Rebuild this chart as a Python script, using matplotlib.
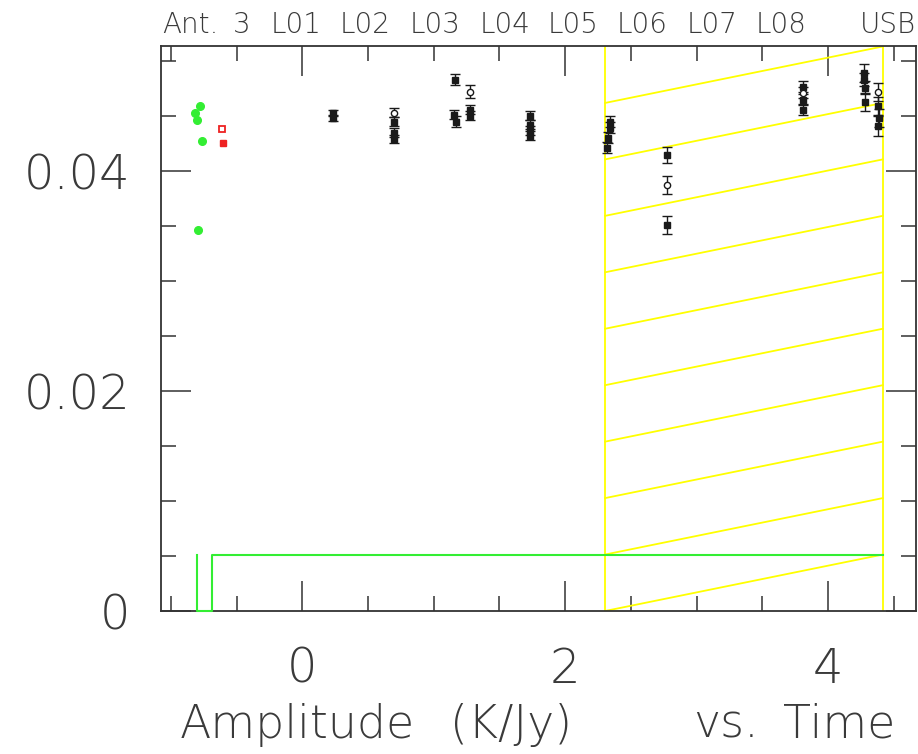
import matplotlib
matplotlib.use("Agg")
import matplotlib.pyplot as plt
from matplotlib.ticker import MultipleLocator, FixedFormatter, FixedLocator

# ---- data -------------------------------------------------------------
# calibrated amplitudes per scan (black: source scans)
time_filled = [0.236, 0.236, 0.70, 0.70, 0.70, 1.163, 1.155, 1.170, 1.276, 1.276,
               1.733, 1.733, 1.733, 1.733, 2.320, 2.330, 2.340, 2.340,
               2.773, 2.773, 3.813, 3.813, 3.813,
               4.277, 4.277, 4.285, 4.285, 4.384, 4.390, 4.384]
amp_filled = [0.04527, 0.04482, 0.04445, 0.04345, 0.04290, 0.04827, 0.04509, 0.04445,
              0.04555, 0.04500,
              0.04500, 0.04418, 0.04364, 0.04318, 0.04209, 0.04300, 0.04390, 0.04445,
              0.04145, 0.03509, 0.04764, 0.04645, 0.04555,
              0.04891, 0.04827, 0.04755, 0.04627, 0.04590, 0.04482, 0.04409]
err_filled = [0.0003, 0.0003, 0.0004, 0.0004, 0.0004, 0.0005, 0.0004, 0.0005,
              0.0004, 0.0004,
              0.0004, 0.0004, 0.0004, 0.0004, 0.0005, 0.0005, 0.0005, 0.0005,
              0.0007, 0.0008, 0.0005, 0.0005, 0.0005,
              0.0008, 0.0006, 0.0006, 0.0008, 0.0008, 0.0008, 0.0009]

time_open = [0.70, 1.276, 2.773, 3.813, 4.384]
amp_open = [0.04527, 0.04718, 0.03873, 0.04709, 0.04718]
err_open = [0.0004, 0.0006, 0.0008, 0.0005, 0.0008]

# bandpass / reference scans
time_green = [-0.779, -0.817, -0.804, -0.766, -0.791]
amp_green = [0.04591, 0.04524, 0.04464, 0.04273, 0.03464]

time_red = [-0.613, -0.601]
amp_red = [0.04382, 0.04252]

# flagged time range and scan window
flag_range = [2.304, 4.417]
window_x = [-0.802, -0.802, -0.684, -0.684, 4.417]
window_y = [0.0051, 0.0, 0.0, 0.0051, 0.0051]

x_limits = (-1.075, 4.670)
y_limits = (0.0, 0.0513)

top_labels = ["Ant.", "3", "L01", "L02", "L03", "L04", "L05", "L06", "L07", "L08", "USB"]
top_label_px = [162, 233, 271, 340, 410, 480, 548, 617, 687, 756, 860]

caption_words = ["Amplitude", "(K/Jy)", "vs.", "Time"]
caption_px = [180, 450, 693, 783]

# ---- figure -------------------------------------------------------------
W, H = 918, 754
fig = plt.figure(figsize=(W / 100, H / 100), dpi=100)
left, right, top, bottom = 161, 916, 46.5, 611
ax = fig.add_axes([left / W, 1 - bottom / H, (right - left) / W, (bottom - top) / H])
ax.set_xlim(*x_limits)
ax.set_ylim(*y_limits)

txt_color = "#3a3a3a"
font = dict(family="DejaVu Sans", weight=200, color=txt_color)

# flagged region: outline plus diagonal hatch
yellow = "#ffff00"
step = y_limits[1] / 10
for k in range(10):
    ax.plot(flag_range, [k * step, (k + 1) * step], color=yellow, lw=1.3, zorder=2,
            clip_on=True)
for xv in flag_range:
    ax.plot([xv, xv], list(y_limits), color=yellow, lw=1.3, zorder=2)

ax.plot(window_x, window_y, color="#33ee33", lw=1.5, zorder=3, clip_on=False)

ax.errorbar(time_filled, amp_filled, yerr=err_filled, fmt="s", ms=4.2,
            mfc="#1a1a1a", mec="#1a1a1a", ecolor="#1a1a1a", elinewidth=1.0,
            capsize=3.5, capthick=1.0, zorder=4)
ax.errorbar(time_open, amp_open, yerr=err_open, fmt="o", ms=4.5,
            mfc="white", mec="#1a1a1a", mew=1.0, ecolor="#1a1a1a", elinewidth=1.0,
            capsize=3.5, capthick=1.0, zorder=5)

ax.plot(time_green, amp_green, "o", ms=5.5, color="#33ee33", zorder=4)
ax.plot(time_red[:1], amp_red[:1], "s", ms=5, mfc="white", mec="#ee2222", mew=1.3, zorder=4)
ax.plot(time_red[1:], amp_red[1:], "s", ms=5, color="#ee2222", zorder=4)

# axes styling
for sp in ax.spines.values():
    sp.set_linewidth(1.3)
    sp.set_color("#333333")

ax.xaxis.set_major_locator(FixedLocator([0, 2, 4]))
ax.xaxis.set_minor_locator(MultipleLocator(0.5))
ax.yaxis.set_major_locator(FixedLocator([0, 0.02, 0.04]))
ax.yaxis.set_minor_locator(MultipleLocator(0.005))
ax.xaxis.set_major_formatter(FixedFormatter(["0", "2", "4"]))
ax.yaxis.set_major_formatter(FixedFormatter(["0", "0.02", "0.04"]))

ax.tick_params(which="both", direction="in", top=True, right=True, color="#333333",
               width=1.1)
ax.tick_params(which="major", length=21.5)
ax.tick_params(which="minor", length=10.5)
ax.tick_params(axis="x", which="major", pad=25, labelsize=34.5, labelcolor=txt_color)
ax.tick_params(axis="y", which="major", pad=22, labelsize=34.5, labelcolor=txt_color)
for lab in ax.get_xticklabels() + ax.get_yticklabels():
    lab.set_fontweight(200)
    lab.set_family("DejaVu Sans")

# x-axis caption
for word, px in zip(caption_words, caption_px):
    fig.text(px / W, 1 - 738 / H, word, ha="left", va="baseline", fontsize=33, **font)

# antenna / scan header row
for lab, px in zip(top_labels, top_label_px):
    fig.text(px / W, 1 - 33.3 / H, lab, ha="left", va="baseline", fontsize=20, **font)

fig.savefig("out.png", dpi=100)
